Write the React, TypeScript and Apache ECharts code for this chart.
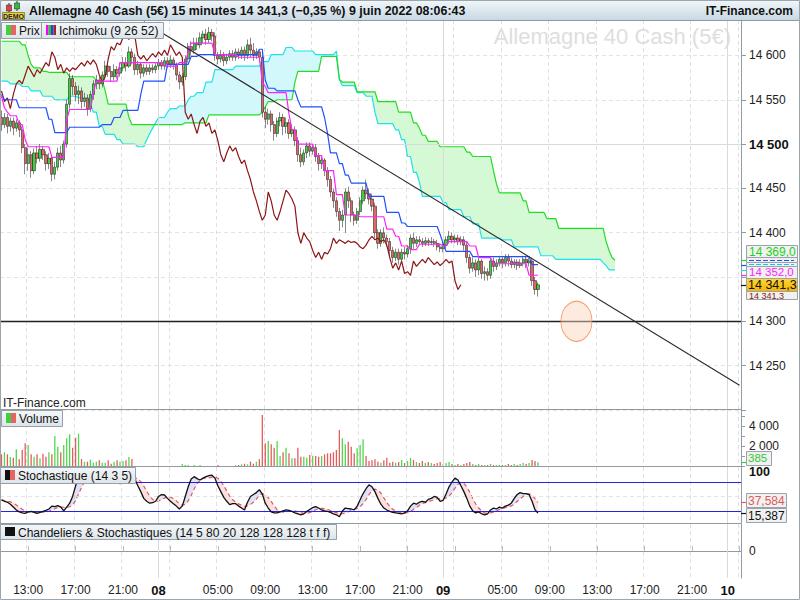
import React, { useEffect, useRef } from 'react';
import * as echarts from 'echarts';

const FONT = '"Liberation Sans", Arial, sans-serif';

// 15-minute slots, first slot = 7 June 2022 10:45
const SLOT_START_UTC = Date.UTC(2022, 5, 7, 10, 45);
const SLOT_MS = 15 * 60 * 1000;
const SLOT_COUNT = 250;

// x axis: hours that carry a label / a tick (day change = bold day number)
const labelHours = [5, 9, 13, 17, 21];
const tickHours = [1, 5, 9, 13, 17, 21];
const daySlots = [53, 149, 245];

// price candles [open, close, low, high]
const candles: number[][] = [
  [14530,14522,14515,14538],[14522,14530,14518,14535],[14530,14520,14512,14534],[14520,14526,14514,14530],
  [14526,14518,14510,14530],[14518,14524,14514,14528],[14524,14516,14508,14527],[14516,14496,14490,14520],
  [14496,14478,14466,14500],[14478,14488,14470,14496],[14488,14470,14462,14492],[14470,14490,14466,14495],
  [14490,14484,14478,14498],[14484,14494,14480,14500],[14494,14488,14482,14498],[14488,14478,14470,14492],
  [14478,14484,14472,14490],[14484,14466,14458,14488],[14466,14474,14460,14480],[14474,14490,14470,14496],
  [14490,14482,14474,14498],[14482,14500,14478,14504],[14500,14545,14496,14550],[14545,14574,14540,14580],
  [14574,14565,14555,14578],[14565,14556,14548,14570],[14556,14560,14545,14566],[14560,14548,14540,14564],
  [14548,14552,14542,14558],[14552,14540,14532,14556],[14540,14556,14536,14560],[14556,14568,14550,14572],
  [14568,14572,14562,14578],[14572,14568,14562,14576],[14568,14578,14564,14582],[14578,14588,14572,14594],
  [14588,14582,14576,14592],[14582,14576,14570,14588],[14576,14584,14572,14590],[14584,14580,14574,14588],
  [14580,14586,14576,14592],[14586,14592,14582,14598],[14592,14588,14582,14598],[14588,14604,14586,14610],
  [14604,14598,14590,14608],[14598,14584,14578,14602],[14584,14590,14578,14594],[14590,14580,14574,14592],
  [14580,14586,14576,14590],[14586,14582,14578,14590],[14582,14586,14578,14590],[14586,14584,14580,14590],
  [14584,14588,14580,14592],[14588,14592,14584,14596],[14592,14588,14584,14595],[14588,14594,14584,14598],
  [14594,14590,14586,14598],[14590,14595,14586,14600],[14595,14590,14584,14598],[14590,14578,14572,14592],
  [14578,14570,14562,14582],[14570,14576,14566,14580],[14576,14596,14572,14600],[14596,14610,14592,14614],
  [14610,14606,14600,14616],[14606,14614,14602,14620],[14614,14612,14606,14620],[14612,14620,14608,14626],
  [14620,14624,14614,14628],[14624,14618,14612,14630],[14618,14626,14614,14632],[14626,14622,14616,14630],
  [14622,14600,14594,14626],[14600,14596,14590,14604],[14596,14600,14592,14606],[14600,14594,14588,14604],
  [14594,14598,14590,14602],[14598,14602,14594,14606],[14602,14598,14594,14606],[14598,14604,14594,14608],
  [14604,14600,14596,14608],[14600,14606,14596,14610],[14606,14600,14594,14610],[14600,14612,14596,14618],
  [14612,14606,14598,14620],[14606,14600,14594,14614],[14600,14604,14596,14608],[14604,14598,14592,14606],
  [14598,14536,14530,14602],[14536,14528,14518,14542],[14528,14534,14522,14540],[14534,14522,14514,14538],
  [14522,14512,14504,14526],[14512,14526,14508,14530],[14526,14530,14520,14536],[14530,14520,14510,14534],
  [14520,14524,14512,14530],[14524,14512,14506,14528],[14512,14516,14508,14522],[14516,14504,14498,14520],
  [14504,14488,14480,14508],[14488,14480,14474,14496],[14480,14490,14476,14494],[14490,14498,14484,14502],
  [14498,14492,14486,14502],[14492,14496,14488,14500],[14496,14486,14480,14500],[14486,14478,14470,14490],
  [14478,14482,14472,14486],[14482,14470,14464,14484],[14470,14460,14452,14474],[14460,14446,14440,14464],
  [14446,14436,14428,14450],[14436,14424,14418,14440],[14424,14414,14402,14428],[14414,14420,14406,14426],
  [14420,14446,14400,14450],[14446,14436,14428,14452],[14436,14420,14412,14440],[14420,14414,14408,14424],
  [14414,14424,14410,14428],[14424,14436,14420,14440],[14436,14448,14432,14452],[14448,14444,14438,14460],
  [14444,14438,14432,14450],[14438,14430,14424,14444],[14430,14400,14394,14434],[14400,14388,14382,14404],
  [14388,14400,14384,14404],[14400,14394,14388,14406],[14394,14390,14384,14398],[14390,14380,14374,14394],
  [14380,14372,14366,14384],[14372,14378,14368,14382],[14378,14370,14364,14382],[14370,14378,14366,14382],
  [14378,14376,14370,14384],[14376,14382,14372,14386],[14382,14394,14376,14398],[14394,14388,14382,14400],
  [14388,14392,14384,14396],[14392,14390,14386,14396],[14390,14388,14384,14394],[14388,14391,14385,14395],
  [14391,14389,14385,14394],[14389,14390,14386,14395],[14390,14388,14384,14393],[14388,14384,14380,14392],
  [14384,14382,14378,14388],[14382,14386,14378,14390],[14386,14392,14382,14396],[14392,14396,14388,14402],
  [14396,14392,14388,14400],[14392,14394,14388,14398],[14394,14390,14386,14398],[14390,14392,14386,14396],
  [14392,14386,14380,14396],[14386,14372,14366,14390],[14372,14360,14354,14376],[14360,14366,14356,14372],
  [14366,14358,14350,14370],[14358,14368,14352,14372],[14368,14354,14348,14370],[14354,14356,14346,14362],
  [14356,14352,14346,14360],[14352,14368,14348,14372],[14368,14362,14356,14372],[14362,14366,14358,14370],
  [14366,14370,14362,14374],[14370,14366,14360,14374],[14366,14372,14362,14376],[14372,14368,14362,14376],
  [14368,14364,14360,14372],[14364,14367,14360,14370],[14367,14363,14358,14370],[14363,14366,14360,14370],
  [14366,14370,14362,14374],[14370,14366,14360,14374],[14366,14368,14362,14372],[14368,14346,14340,14372],
  [14346,14336,14330,14350],[14336,14341.3,14328,14344],
];

const volumes: number[] = [
  1170,1370,1170,900,830,1670,670,1600,2270,2100,
  1170,930,1170,770,1230,930,1370,1170,3000,1930,
  1370,2100,2770,3170,1830,2830,3230,700,430,430,
  630,330,430,570,330,330,570,230,430,570,
  430,500,570,900,700,0,0,0,0,0,
  0,0,0,0,0,0,0,0,0,0,
  0,200,100,100,0,100,0,100,0,0,
  0,0,0,100,0,0,0,0,0,100,
  100,170,230,170,430,230,430,670,5100,2270,
  2500,2170,1830,2500,1000,1370,1830,1270,770,770,
  1830,930,930,830,1100,1030,1000,930,1000,1170,
  1270,1270,1370,1600,3600,2770,2170,2430,1930,1270,
  1770,2100,2670,1000,500,570,670,430,330,570,
  830,330,430,330,400,600,300,500,800,600,
  400,300,500,300,400,300,200,300,400,200,
  300,400,200,100,200,100,200,300,400,200,
  100,200,100,100,100,200,100,100,100,100,
  100,200,100,200,100,200,300,200,300,600,
  500,385,
];

// Ichimoku lines as runs [number of slots, value]
const tenkanRuns: number[][] = [
  [1,14554],[1,14541],[1,14536],[3,14532],[2,14522],[1,14505],[8,14497],[5,14485],[1,14528],[8,14539],
  [1,14558],[8,14571],[15,14592],[5,14588],[3,14592],[1,14604],[8,14614],[8,14601],[8,14598],[1,14570],
  [1,14565],[7,14558],[1,14534],[2,14516],[6,14500],[3,14487],[4,14470],[3,14443],[5,14420],[9,14418],
  [3,14404],[2,14396],[3,14385],[3,14381],[8,14387],[2,14385],[7,14390],[3,14385],[5,14372],[12,14365],
  [4,14352],
];
const kijunRuns: number[][] = [
  [1,14556],[5,14550],[10,14541],[2,14528],[5,14513],[11,14519],[4,14522],[3,14530],[6,14538],[1,14556],
  [8,14571],[8,14590],[3,14599],[20,14601],[2,14607],[1,14572],[3,14563],[7,14560],[1,14550],[8,14542],
  [1,14530],[1,14512],[3,14490],[2,14478],[2,14465],[6,14456],[6,14441],[5,14423],[2,14411],[11,14407],
  [1,14398],[1,14388],[9,14379],[20,14373],[3,14364],
];
const senkouARuns: number[][] = [
  [3,14571],[4,14568],[3,14565],[4,14560],[4,14554],[5,14550],[3,14554],[4,14552],[1,14545],[2,14536],
  [2,14520],[4,14511],[2,14505],[5,14500],[3,14497],[1,14505],[1,14512],[1,14518],[1,14524],[3,14530],
  [1,14536],[3,14540],[3,14543],[1,14550],[2,14554],[3,14558],[3,14570],[7,14584],[9,14588],[3,14593],
  [5,14601],[3,14609],[7,14605],[7,14601],[1,14605],[1,14573],[5,14566],[3,14558],[3,14554],[1,14536],
  [6,14523],[2,14516],[2,14505],[2,14486],[2,14468],[1,14457],[7,14441],[2,14434],[5,14426],[3,14418],
  [3,14410],[7,14394],[4,14392],[9,14384],[5,14374],[16,14370],[1,14366],[1,14363],[3,14358],
];
const senkouBRuns: number[][] = [
  [7,14616],[2,14612],[1,14600],[1,14590],[3,14586],[2,14582],[7,14581],[9,14576],[3,14572],[1,14560],
  [7,14545],[1,14530],[18,14522],[8,14524],[18,14533],[1,14536],[1,14542],[3,14548],[6,14550],[1,14570],
  [8,14582],[6,14599],[1,14573],[5,14570],[7,14559],[7,14548],[5,14536],[2,14524],[1,14518],[2,14510],
  [4,14503],[9,14497],[2,14491],[7,14486],[1,14470],[1,14455],[8,14445],[2,14436],[6,14423],[4,14416],
  [16,14405],[1,14390],[1,14380],[1,14372],[1,14369],
];

// Stochastic %K (14 3 5)
const stochK: number[] = [
  43,40,38,34,28,22,18,16,15,18, 19,17,15,17,19,21,24,30,29,31,
  28,20,28,36,50,72,88,97,95,90, 80,84,88,90,88,92,94,92,88,84,
  76,82,88,92,94,86,72,60,46,40, 36,37,40,50,54,53,46,40,35,30,
  24,30,50,70,86,91,87,84,88,91, 93,94,88,72,60,48,40,33,35,35,
  30,26,22,38,50,54,58,64,55,36, 26,18,16,16,18,20,22,21,19,16,
  14,12,14,19,23,27,29,26,22,20, 19,17,14,12,8,20,26,25,24,22,
  30,43,56,66,74,70,60,46,34,26, 22,19,17,16,15,14,16,20,30,36,
  34,38,40,38,44,46,50,48,40,42, 55,70,80,88,84,72,60,46,30,20,
  16,18,14,12,14,22,26,24,28,26, 30,32,36,46,54,58,56,56,54,40,
  22.533,15.387,
];
const stochDPeriod = 5;
const stochLevels = [20, 80];

// drawings on the price panel
const trendLine = [[48, 14638], [249, 14228]];
const horizontalLevel = 14300;
const circleMark = [194, 14300];
const chikouShift = 26;

// ---------- derived ----------
const pad = (n: number) => String(n).padStart(2, '0');
const slotTimes: { d: number; h: number; m: number }[] = [];
const categories: string[] = [];
for (let i = 0; i < SLOT_COUNT; i++) {
  const t = new Date(SLOT_START_UTC + i * SLOT_MS);
  const d = t.getUTCDate(), h = t.getUTCHours(), m = t.getUTCMinutes();
  slotTimes.push({ d, h, m });
  categories.push(`${pad(d)} ${pad(h)}:${pad(m)}`);
}
const isLabelSlot = (i: number) => slotTimes[i] && slotTimes[i].m === 0 && (slotTimes[i].h === 0 || labelHours.includes(slotTimes[i].h));
const isTickSlot = (i: number) => slotTimes[i] && slotTimes[i].m === 0 && (slotTimes[i].h === 0 || tickHours.includes(slotTimes[i].h));
const isGridSlot = (i: number) => slotTimes[i] && slotTimes[i].m === 0 && tickHours.includes(slotTimes[i].h);

const expand = (runs: number[][]) => runs.flatMap(([n, v]) => Array(n).fill(v));
const padTo = (arr: any[]) => { const a = arr.slice(); while (a.length < SLOT_COUNT) a.push('-'); return a; };

const closes = candles.map((c) => c[1]);
const tenkan = expand(tenkanRuns);
const kijun = expand(kijunRuns);
const senkouA = expand(senkouARuns);
const senkouB = expand(senkouBRuns);
const chikou = closes.slice(chikouShift);
const cloudBase = senkouA.map((a, i) => Math.min(a, senkouB[i]));
const cloudUp = senkouA.map((a, i) => Math.max(a - senkouB[i], 0));
const cloudDown = senkouA.map((a, i) => Math.max(senkouB[i] - a, 0));
const stochD = stochK.map((_, i) => {
  const s = stochK.slice(Math.max(0, i - stochDPeriod + 1), i + 1);
  return s.reduce((a, b) => a + b, 0) / s.length;
});
const stBase = stochK.map((k, i) => Math.min(k, stochD[i]));
const stUp = stochK.map((k, i) => Math.max(k - stochD[i], 0));
const stDown = stochK.map((k, i) => Math.max(stochD[i] - k, 0));

const UP = '#3fcf3f';
const DOWN = '#e56464';
const C_TENKAN = '#ff22ff';
const C_KIJUN = '#2050ff';
const C_SA = '#1fe0ee';
const C_SB = '#22dd22';
const C_CHIKOU = '#8c1515';
const GRIDC = '#8f9aa3';

const groupThousands = (s: string) => s.replace(/\B(?=(\d{3})+(?!\d))/g, ' ');
const fmtAxis = (v: number) => groupThousands(String(Math.round(v)));
const fmt1 = (v: number) => { const [a, b] = v.toFixed(1).split('.'); return groupThousands(a) + ',' + b; };
const fmt3 = (v: number) => v.toFixed(3).replace('.', ',');

const xAxisFor = (gi: number, show: boolean) => ({
  type: 'category', gridIndex: gi, data: categories, boundaryGap: true,
  axisLine: { show, lineStyle: { color: GRIDC } },
  axisTick: { show, inside: true, length: 5, alignWithLabel: true, interval: (i: number) => isTickSlot(i), lineStyle: { color: '#b5bdc3' } },
  axisLabel: {
    show, interval: (i: number) => isLabelSlot(i), color: '#222', fontSize: 12, fontFamily: FONT, margin: 6,
    formatter: (_v: string, i: number) => {
      const t = slotTimes[i];
      if (!t) return '';
      return t.h === 0 ? `{day|${pad(t.d)}}` : `${pad(t.h)}:00`;
    },
    rich: { day: { fontWeight: 'bold', fontSize: 13, color: '#111', fontFamily: FONT } },
  },
  splitLine: { show: true, interval: (i: number) => isGridSlot(i), lineStyle: { color: '#e0e0e0', type: [4, 3], width: 1 } },
});

const dayMarkLine = (extra: any[] = []) => ({
  silent: true, symbol: ['none', 'none'], label: { show: false }, animation: false,
  lineStyle: { color: '#dadada', type: 'solid', width: 1 },
  data: [...daySlots.map((s) => ({ xAxis: s })), ...extra],
});

const blank = categories.map(() => '-');

function buildOption(): any {
  const lineBase = { type: 'line', symbol: 'none', showSymbol: false, smooth: false, silent: true, animation: false };
  return {
    animation: false,
    textStyle: { fontFamily: FONT },
    grid: [
      { left: 0, right: 59, top: 20, height: 390 },
      { left: 0, right: 59, top: 410, height: 56 },
      { left: 0, right: 59, top: 467, height: 56 },
      { left: 0, right: 59, top: 524, height: 54 },
    ],
    xAxis: [xAxisFor(0, false), xAxisFor(1, false), xAxisFor(2, false), xAxisFor(3, true)],
    yAxis: [
      {
        type: 'value', gridIndex: 0, position: 'right', min: 14200, max: 14640, interval: 50,
        axisLine: { show: true, lineStyle: { color: GRIDC } },
        axisTick: { show: true, length: 5, lineStyle: { color: GRIDC } },
        axisLabel: {
          margin: 8, color: '#222', fontSize: 12, fontFamily: FONT,
          formatter: (v: number) => (v === 14500 ? '{b|14 500}' : [14200, 14350, 14640].includes(v) ? '' : fmtAxis(v)),
          rich: { b: { fontWeight: 'bold', fontSize: 13, color: '#111', fontFamily: FONT } },
        },
        splitLine: { show: true, lineStyle: { color: '#e4e4e4', type: [4, 3] } },
      },
      {
        type: 'value', gridIndex: 1, position: 'right', min: 0, max: 5600, interval: 1000,
        axisLine: { show: true, lineStyle: { color: GRIDC } },
        axisTick: { show: true, length: 4, lineStyle: { color: GRIDC } },
        axisLabel: { margin: 8, color: '#222', fontSize: 12, fontFamily: FONT, formatter: (v: number) => (v === 2000 || v === 4000 ? fmtAxis(v) : '') },
        splitLine: { show: false },
      },
      {
        type: 'value', gridIndex: 2, position: 'right', min: -5, max: 111, interval: 5,
        axisLine: { show: true, lineStyle: { color: GRIDC } },
        axisTick: { show: false },
        axisLabel: { margin: 8, color: '#111', fontSize: 12.5, fontWeight: 'bold', fontFamily: FONT, padding: [5, 0, 0, 0], formatter: (v: number) => (v === 100 ? '100' : '') },
        splitLine: { show: false },
      },
      {
        type: 'value', gridIndex: 3, position: 'right', min: -1, max: 1, interval: 1,
        axisLine: { show: true, lineStyle: { color: GRIDC } },
        axisTick: { show: false },
        axisLabel: { margin: 8, color: '#222', fontSize: 12, fontFamily: FONT, formatter: (v: number) => (v === 0 ? '0' : '') },
        splitLine: { show: false },
      },
    ],
    series: [
      // ---- price panel ----
      { ...lineBase, name: 'grid0', xAxisIndex: 0, yAxisIndex: 0, data: blank, lineStyle: { opacity: 0 },
        markLine: { ...dayMarkLine([{ yAxis: 14500 }]) } },
      { ...lineBase, name: 'cloudBase', xAxisIndex: 0, yAxisIndex: 0, stack: 'cloud', data: padTo(cloudBase), lineStyle: { opacity: 0 }, z: 2 },
      { ...lineBase, name: 'cloudUp', xAxisIndex: 0, yAxisIndex: 0, stack: 'cloud', data: padTo(cloudUp), lineStyle: { opacity: 0 }, areaStyle: { color: '#d2f8fb', opacity: 1 }, z: 2 },
      { ...lineBase, name: 'cloudDown', xAxisIndex: 0, yAxisIndex: 0, stack: 'cloud', data: padTo(cloudDown), lineStyle: { opacity: 0 }, areaStyle: { color: '#d5f8d5', opacity: 1 }, z: 2 },
      { ...lineBase, name: 'Senkou A', xAxisIndex: 0, yAxisIndex: 0, data: padTo(senkouA), lineStyle: { color: C_SA, width: 1.2 }, z: 4 },
      { ...lineBase, name: 'Senkou B', xAxisIndex: 0, yAxisIndex: 0, data: padTo(senkouB), lineStyle: { color: C_SB, width: 1.2 }, z: 4 },
      {
        type: 'candlestick', name: 'Prix', xAxisIndex: 0, yAxisIndex: 0, data: candles, barWidth: 2.7, silent: true, z: 5,
        itemStyle: { color: UP, color0: DOWN, borderColor: '#111', borderColor0: '#111', borderWidth: 0.5 },
      },
      { ...lineBase, name: 'Chikou', xAxisIndex: 0, yAxisIndex: 0, data: padTo(chikou), lineStyle: { color: C_CHIKOU, width: 1.2 }, z: 6 },
      { ...lineBase, name: 'Kijun', xAxisIndex: 0, yAxisIndex: 0, data: padTo(kijun), lineStyle: { color: C_KIJUN, width: 1.2 }, z: 6 },
      { ...lineBase, name: 'Tenkan', xAxisIndex: 0, yAxisIndex: 0, data: padTo(tenkan), lineStyle: { color: C_TENKAN, width: 1.2 }, z: 6 },
      {
        type: 'scatter', name: 'circle', xAxisIndex: 0, yAxisIndex: 0, data: [circleMark], symbol: 'circle', symbolSize: [31, 40], silent: true, z: 6,
        itemStyle: { color: 'rgba(252,214,188,0.6)', borderColor: '#f28a4a', borderWidth: 1 },
      },
      {
        ...lineBase, name: 'trend', xAxisIndex: 0, yAxisIndex: 0, data: trendLine, lineStyle: { color: '#2a2a2a', width: 1.1 }, z: 7,
        markLine: { silent: true, symbol: ['none', 'none'], label: { show: false }, lineStyle: { color: '#222', width: 1.4, type: 'solid' }, data: [{ yAxis: horizontalLevel }] },
      },
      // ---- volume ----
      {
        type: 'bar', name: 'Volume', xAxisIndex: 1, yAxisIndex: 1, barWidth: 1.3, silent: true,
        data: volumes.map((v, i) => ({ value: v, itemStyle: { color: candles[i][1] >= candles[i][0] ? '#4fd84f' : '#e35c5c' } })),
        markLine: dayMarkLine(),
      },
      // ---- stochastic ----
      { ...lineBase, name: 'stBase', xAxisIndex: 2, yAxisIndex: 2, stack: 'st', data: padTo(stBase), lineStyle: { opacity: 0 },
        markLine: {
          silent: true, symbol: ['none', 'none'], label: { show: false },
          data: [
            ...daySlots.map((s) => ({ xAxis: s, lineStyle: { color: '#dadada', type: 'solid', width: 1 } })),
            { yAxis: 50, lineStyle: { color: '#e4e4e4', type: [4, 3], width: 1 } },
            ...stochLevels.map((l) => ({ yAxis: l, lineStyle: { color: '#2323e6', type: 'solid', width: 1.2 } })),
          ],
        } },
      { ...lineBase, name: 'stUp', xAxisIndex: 2, yAxisIndex: 2, stack: 'st', data: padTo(stUp), lineStyle: { opacity: 0 }, areaStyle: { color: 'rgba(140,140,225,0.38)' } },
      { ...lineBase, name: 'stDown', xAxisIndex: 2, yAxisIndex: 2, stack: 'st', data: padTo(stDown), lineStyle: { opacity: 0 }, areaStyle: { color: 'rgba(238,140,140,0.38)' } },
      { ...lineBase, name: '%D', xAxisIndex: 2, yAxisIndex: 2, data: padTo(stochD), lineStyle: { color: '#e05a5a', width: 1.2, type: [4, 3] }, z: 4 },
      { ...lineBase, name: '%K', xAxisIndex: 2, yAxisIndex: 2, data: padTo(stochK), lineStyle: { color: '#111', width: 1.3 }, z: 5 },
      // ---- chandeliers panel ----
      { ...lineBase, name: 'grid3', xAxisIndex: 3, yAxisIndex: 3, data: blank, lineStyle: { opacity: 0 }, markLine: dayMarkLine() },
    ],
  };
}

const panelFill = () => new echarts.graphic.LinearGradient(0, 0, 0, 1, [
  { offset: 0, color: '#f4f7f9' }, { offset: 1, color: '#dde4e9' },
]);

function legendBox(x: number, y: number, w: number, h: number, text: string, icons: { c: string; w: number }[]) {
  const els: any[] = [
    { type: 'rect', z: 100, shape: { x: x + 0.5, y: y + 0.5, width: w, height: h }, style: { fill: panelFill(), stroke: '#95a1a9', lineWidth: 1 } },
  ];
  let ix = x + 5;
  icons.forEach((ic) => {
    els.push({ type: 'rect', z: 101, shape: { x: ix, y: y + 3, width: ic.w, height: h - 6 }, style: { fill: ic.c } });
    ix += ic.w;
  });
  els.push({ type: 'text', z: 101, x: x + 18, y: y + h / 2 + 1, style: { text, fill: '#111', fontSize: 12, fontFamily: FONT, verticalAlign: 'middle', align: 'left' } });
  return els;
}

function tagBox(x: number, y: number, w: number, h: number, fill: any = '#f1f1f1') {
  return { type: 'rect', z: 110, shape: { x: x + 0.5, y: y + 0.5, width: w, height: h }, style: { fill, stroke: '#98a3ab', lineWidth: 1 } };
}
function tagText(x: number, yMid: number, text: string, color: string, size = 12) {
  return { type: 'text', z: 111, x, y: yMid, style: { text, fill: color, fontSize: size, fontFamily: FONT, verticalAlign: 'middle', align: 'left' } };
}

function buildGraphics(chart: any): any[] {
  const last = closes[closes.length - 1];
  const yPrice = (v: number) => chart.convertToPixel({ yAxisIndex: 0 }, v);
  const yVol = (v: number) => chart.convertToPixel({ yAxisIndex: 1 }, v);
  const ySt = (v: number) => chart.convertToPixel({ yAxisIndex: 2 }, v);
  const lastSB = senkouB[senkouB.length - 1];
  const lastSA = senkouA[senkouA.length - 1];
  const lastK = kijun[kijun.length - 1];
  const lastT = tenkan[tenkan.length - 1];
  const lastVol = volumes[volumes.length - 1];
  const lastD = stochD[stochD.length - 1];
  const lastKst = stochK[stochK.length - 1];

  const g: any[] = [];
  // watermark
  g.push({ type: 'text', z: 1, x: 731, y: 36, style: { text: 'Allemagne 40 Cash (5€)', fill: '#dedede', fontSize: 22, fontFamily: FONT, align: 'right', verticalAlign: 'middle' } });
  // header
  g.push({ type: 'rect', z: 100, shape: { x: 0, y: 0, width: 800, height: 20 }, style: { fill: new echarts.graphic.LinearGradient(0, 0, 0, 1, [{ offset: 0, color: '#f2f7fa' }, { offset: 1, color: '#c8d8e3' }]) } });
  g.push({ type: 'line', z: 101, shape: { x1: 0, y1: 20.5, x2: 800, y2: 20.5 }, style: { stroke: '#8c9ba5', lineWidth: 1 } });
  // DEMO logo
  g.push({ type: 'line', z: 101, shape: { x1: 9, y1: 3, x2: 9, y2: 12 }, style: { stroke: '#333', lineWidth: 1 } });
  g.push({ type: 'rect', z: 102, shape: { x: 6.5, y: 5, width: 5, height: 6 }, style: { fill: '#e04040', stroke: '#333', lineWidth: 0.6 } });
  g.push({ type: 'line', z: 101, shape: { x1: 17, y1: 1, x2: 17, y2: 11 }, style: { stroke: '#333', lineWidth: 1 } });
  g.push({ type: 'rect', z: 102, shape: { x: 14.5, y: 3, width: 5, height: 6 }, style: { fill: '#30c030', stroke: '#333', lineWidth: 0.6 } });
  g.push({ type: 'rect', z: 102, shape: { x: 2.5, y: 12.5, width: 22, height: 7 }, style: { fill: '#f3d600', stroke: '#555', lineWidth: 0.6 } });
  g.push({ type: 'text', z: 103, x: 13.5, y: 16.3, style: { text: 'DEMO', fill: '#1a1a66', fontSize: 7, fontWeight: 'bold', fontFamily: FONT, align: 'center', verticalAlign: 'middle' } });
  g.push({ type: 'text', z: 101, x: 29, y: 11, style: { text: `Allemagne 40 Cash (5€) 15 minutes ${fmt1(last)} (−0,35 %) 9 juin 2022 08:06:43`, fill: '#111', fontSize: 12.4, fontWeight: 'bold', fontFamily: FONT, verticalAlign: 'middle' } });
  g.push({ type: 'text', z: 101, x: 793, y: 11, style: { text: 'IT-Finance.com', fill: '#111', fontSize: 12, fontWeight: 'bold', fontFamily: FONT, align: 'right', verticalAlign: 'middle' } });

  // panel separators
  [409.5, 466.5, 523.5].forEach((y) => g.push({ type: 'line', z: 90, shape: { x1: 0, y1: y, x2: 741, y2: y }, style: { stroke: GRIDC, lineWidth: 1 } }));
  // outer frame
  g.push({ type: 'rect', z: 120, shape: { x: 0.5, y: 0.5, width: 799, height: 599 }, style: { fill: 'none', stroke: '#9aa5ad', lineWidth: 1 } });

  // legends
  g.push(...legendBox(1, 22, 40, 16, 'Prix', [{ c: UP, w: 5 }, { c: DOWN, w: 5 }]));
  g.push(...legendBox(41, 22, 122, 16, 'Ichimoku (9 26 52)', [{ c: '#ff00ff', w: 2.5 }, { c: '#22cc22', w: 2.5 }, { c: '#2040ff', w: 2.5 }, { c: '#aa2222', w: 2.5 }]));
  g.push(...legendBox(1, 410, 61, 16, 'Volume', [{ c: UP, w: 5 }, { c: DOWN, w: 5 }]));
  g.push(...legendBox(0, 467, 135, 16, 'Stochastique (14 3 5)', [{ c: '#111', w: 5 }, { c: DOWN, w: 5 }]));
  g.push(...legendBox(0, 524, 336, 15, 'Chandeliers & Stochastiques (14 5 80 20 128 128 128 t f f)', [{ c: '#111', w: 10 }]));
  g.push({ type: 'text', z: 100, x: 3, y: 402.5, style: { text: 'IT-Finance.com', fill: '#222', fontSize: 12, fontFamily: FONT, verticalAlign: 'middle' } });

  // right-axis value markers
  const marks: [number, string][] = [[lastSB, C_SB], [lastK, C_KIJUN], [lastSA, C_SA], [lastT, C_TENKAN], [last, '#111']];
  marks.forEach(([v, c]) => {
    const y = Math.round(yPrice(v)) + 0.5;
    g.push({ type: 'line', z: 105, shape: { x1: 741, y1: y, x2: 746, y2: y }, style: { stroke: c, lineWidth: 1.2 } });
  });
  // stacked price tags (overlapping, as in the original)
  g.push(tagBox(746, 245, 51, 13));
  g.push(tagText(749, 251.5, fmt1(lastSB), '#19d419'));
  g.push(tagBox(746, 257, 51, 5));
  g.push({ type: 'line', z: 111, shape: { x1: 749, y1: 260.5, x2: 794, y2: 260.5 }, style: { stroke: C_KIJUN, lineWidth: 1, lineDash: [5, 2] } });
  g.push(tagBox(746, 262, 51, 4));
  g.push({ type: 'line', z: 111, shape: { x1: 749, y1: 264.5, x2: 794, y2: 264.5 }, style: { stroke: '#12c9d8', lineWidth: 1, lineDash: [5, 2] } });
  g.push(tagBox(746, 266, 51, 12));
  g.push(tagText(749, 271.5, fmt1(lastT), C_TENKAN, 11.5));
  g.push(tagBox(746, 291, 51, 8));
  g.push(tagText(749, 296, fmt1(closes[closes.length - 1]), C_CHIKOU, 9));
  g.push(tagBox(746, 278, 51, 13, new echarts.graphic.LinearGradient(0, 0, 0, 1, [{ offset: 0, color: '#ffd63a' }, { offset: 1, color: '#f3b400' }])));
  g.push(tagText(748, 285, fmt1(last), '#111', 12.5));

  // volume marker
  const vy = Math.round(yVol(lastVol)) + 0.5;
  g.push({ type: 'line', z: 105, shape: { x1: 741, y1: vy, x2: 746, y2: vy }, style: { stroke: '#3ccc3c', lineWidth: 1.2 } });
  g.push(tagBox(746, 451, 25, 14));
  g.push(tagText(748, 458, String(lastVol), '#33cc33', 11.5));
  // stochastic markers
  const dy = Math.round(ySt(lastD)) + 0.5;
  const ky = Math.round(ySt(lastKst)) + 0.5;
  g.push({ type: 'line', z: 105, shape: { x1: 741, y1: dy, x2: 746, y2: dy }, style: { stroke: '#e05a5a', lineWidth: 1.2 } });
  g.push({ type: 'line', z: 105, shape: { x1: 741, y1: ky, x2: 746, y2: ky }, style: { stroke: '#111', lineWidth: 1.2 } });
  g.push(tagBox(746, 493, 40, 14));
  g.push(tagText(748, 500.5, fmt3(lastD), '#e05a5a'));
  g.push(tagBox(746, 508, 40, 14));
  g.push(tagText(748, 515.5, fmt3(lastKst), '#111'));
  return g;
}

export default function App() {
  const ref = useRef<HTMLDivElement>(null);
  useEffect(() => {
    if (!ref.current) return;
    const chart = echarts.init(ref.current, null, { renderer: 'svg' });
    chart.setOption(buildOption());
    chart.setOption({ graphic: buildGraphics(chart) });
    return () => chart.dispose();
  }, []);
  return <div ref={ref} style={{ position: 'fixed', left: 0, top: 0, width: 800, height: 600, background: '#fff' }} />;
}
